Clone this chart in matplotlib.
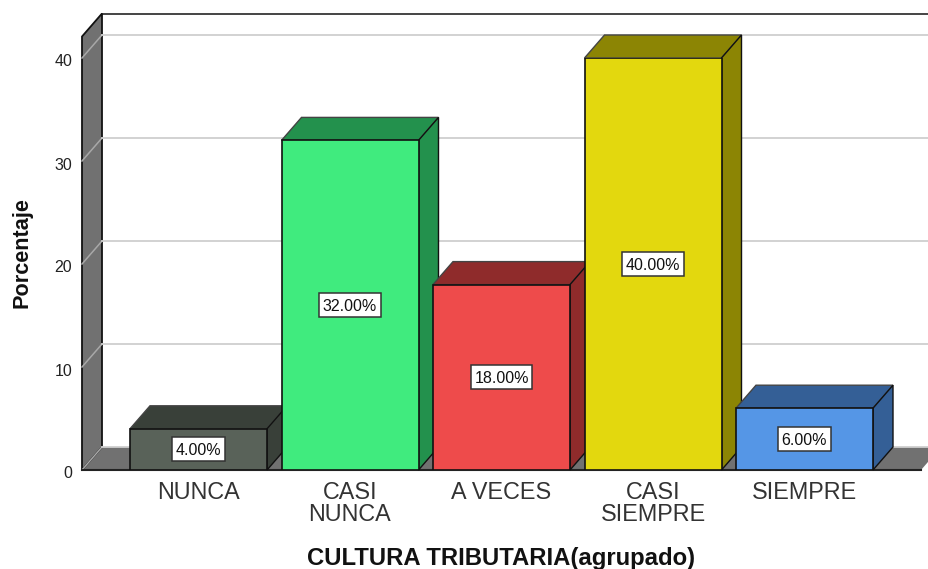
import matplotlib
matplotlib.use("Agg")
import matplotlib.pyplot as plt
from matplotlib.patches import Polygon, Rectangle
from matplotlib.transforms import ScaledTranslation

categorias = ["NUNCA", "CASI\nNUNCA", "A VECES", "CASI\nSIEMPRE", "SIEMPRE"]
porcentajes = [4, 32, 18, 40, 6]
etiquetas = ["4.00%", "32.00%", "18.00%", "40.00%", "6.00%"]
ticks_y = [0, 10, 20, 30, 40]

color_frente = ["#596259", "#40EB7E", "#EE4B4B", "#E3D80E", "#5596E6"]
color_oscuro = ["#394039", "#23914D", "#8F2B2B", "#8C8504", "#345F96"]
gris = "#717171"

ancho_fig, alto_fig = 929, 569
plt.rcParams["font.family"] = ["Liberation Sans", "DejaVu Sans"]
fig = plt.figure(figsize=(ancho_fig / 100, alto_fig / 100), dpi=100)

# ejes: izquierda 82 px, derecha 921 px, y=0 en 470 px, y=40 en 58 px
izq, der, abajo, arriba = 82, 921, 470, 58
ax = fig.add_axes([izq / ancho_fig, 1 - abajo / alto_fig, (der - izq) / ancho_fig, (abajo - arriba) / alto_fig])
paso = 151.5
px_y = (abajo - arriba) / 40
ax.set_xlim((izq - 198.5) / paso, (der - 198.5) / paso)
ax.set_ylim(0, 40)
for s in ax.spines.values():
    s.set_visible(False)

# profundidad del efecto 3D en unidades de datos
dx = 20 / paso
dy = 23 / px_y
x0, x1 = ax.get_xlim()
y_techo = 40 + 21.5 / px_y

# pared izquierda y piso
ax.add_patch(Polygon([(x0, 0), (x0 + dx, dy), (x1 + dx, dy), (x1, 0)], closed=True,
                     fc=gris, ec="none", clip_on=False, zorder=1))
ax.add_patch(Polygon([(x0, 0), (x0 + dx, dy), (x0 + dx, y_techo + dy), (x0, y_techo)], closed=True,
                     fc=gris, ec="#111111", lw=1.3, clip_on=False, zorder=1.1))
ax.plot([x0 + dx, x1 + dx], [y_techo + dy, y_techo + dy], color="#444444", lw=1.4, clip_on=False, zorder=1)

# lineas de cuadricula sobre pared y fondo
for t in ticks_y:
    ax.plot([x0, x0 + dx], [t, t + dy], color="#A8A8A8", lw=1.1, clip_on=False, zorder=1.5)
    ax.plot([x0 + dx, x1 + dx], [t + dy, t + dy], color="#CFCFCF", lw=1.3, clip_on=False, zorder=1.5)

ancho = 137 / paso
renderer = fig.canvas.get_renderer()
for i, v in enumerate(porcentajes):
    iz, de = i - ancho / 2, i + ancho / 2
    z = 3 + i
    ax.bar(i, v, width=ancho, color=color_frente[i], edgecolor="#111111", linewidth=1.2, zorder=z + 0.2)
    ax.add_patch(Polygon([(iz, v), (iz + dx, v + dy), (de + dx, v + dy), (de, v)], closed=True,
                         fc=color_oscuro[i], ec="#444444", lw=1.0, clip_on=False, zorder=z))
    ax.add_patch(Polygon([(de, 0), (de + dx, dy), (de + dx, v + dy), (de, v)], closed=True,
                         fc=color_oscuro[i], ec="#111111", lw=1.0, clip_on=False, zorder=z))
    texto = ax.text(i, v / 2, etiquetas[i], ha="center", va="center_baseline", fontsize=11.5,
                    color="#111111", zorder=11)
    # caja blanca de la etiqueta, mas alta que el texto
    caja = texto.get_window_extent(renderer)
    w = (caja.width + 7) / paso
    h = 24 / px_y
    ax.add_patch(Rectangle((i - w / 2, v / 2 - h / 2), w, h, fc="white", ec="#333333", lw=1.1, zorder=10))

ax.plot([x0, x1], [0, 0], color="#222222", lw=1.5, clip_on=False, zorder=2)

ax.set_xticks(range(len(categorias)))
ax.set_xticklabels(categorias, fontsize=16.8, color="#333333", linespacing=0.95)
ax.set_yticks(ticks_y)
ax.set_yticklabels([str(t) for t in ticks_y], fontsize=11.5, color="#222222")
ax.tick_params(axis="x", length=0, pad=8)
ax.tick_params(axis="y", length=0, pad=7)
bajar = ScaledTranslation(0, -2.5 / 100, fig.dpi_scale_trans)
for etiqueta in ax.get_yticklabels():
    etiqueta.set_transform(etiqueta.get_transform() + bajar)

fig.text(22 / ancho_fig, 1 - 253 / alto_fig, "Porcentaje", rotation=90, ha="center", va="center",
         fontsize=15.6, fontweight="bold", color="#111111")
fig.text(501 / ancho_fig, 1 - 559 / alto_fig, "CULTURA TRIBUTARIA(agrupado)", ha="center", va="center",
         fontsize=17.2, fontweight="bold", color="#111111")

fig.savefig("out.png", dpi=100)
